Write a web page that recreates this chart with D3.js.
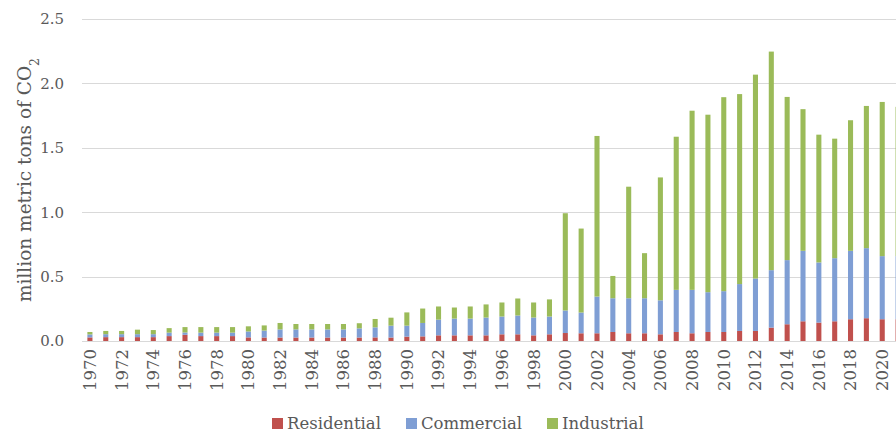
<!DOCTYPE html>
<html>
<head>
<meta charset="utf-8">
<script src="https://cdn.jsdelivr.net/npm/d3@7"></script>
<style>
  body { margin: 0; background: #fff; }
  svg text { font-family: "DejaVu Serif", "Liberation Serif", serif; fill: #595959; }
</style>
</head>
<body>
<script>
var years = d3.range(1970, 2022);

var residential = [0.028, 0.03, 0.03, 0.03, 0.03, 0.038, 0.048, 0.038, 0.038, 0.038,
  0.028, 0.027, 0.027, 0.027, 0.027, 0.027, 0.027, 0.027, 0.028, 0.027,
  0.034, 0.036, 0.044, 0.044, 0.044, 0.044, 0.052, 0.052, 0.044, 0.052,
  0.062, 0.06, 0.06, 0.07, 0.06, 0.06, 0.052, 0.07, 0.06, 0.07,
  0.07, 0.078, 0.078, 0.104, 0.13, 0.153, 0.143, 0.153, 0.169, 0.177,
  0.169, 0.169];

var commercial = [0.023, 0.023, 0.023, 0.023, 0.023, 0.027, 0.018, 0.027, 0.027, 0.027,
  0.046, 0.054, 0.063, 0.063, 0.063, 0.063, 0.063, 0.071, 0.078, 0.092,
  0.085, 0.104, 0.122, 0.13, 0.13, 0.138, 0.138, 0.146, 0.138, 0.138,
  0.175, 0.161, 0.285, 0.262, 0.272, 0.272, 0.264, 0.327, 0.337, 0.309,
  0.317, 0.364, 0.407, 0.446, 0.498, 0.547, 0.467, 0.49, 0.531, 0.544,
  0.49, 0.49];

var industrial = [0.019, 0.025, 0.025, 0.035, 0.032, 0.035, 0.042, 0.043, 0.043, 0.043,
  0.04, 0.04, 0.05, 0.042, 0.042, 0.042, 0.042, 0.04, 0.065, 0.062,
  0.103, 0.112, 0.102, 0.086, 0.094, 0.102, 0.109, 0.132, 0.117, 0.133,
  0.755, 0.652, 1.247, 0.173, 0.866, 0.35, 0.954, 1.189, 1.391, 1.378,
  1.506, 1.475, 1.583, 1.697, 1.267, 1.1, 0.992, 0.928, 1.014, 1.104,
  1.197, 1.159];

var seriesNames = ["Residential", "Commercial", "Industrial"];
var seriesColors = ["#c0504d", "#7f9ed4", "#9bbb59"];
var yTicks = [0, 0.5, 1.0, 1.5, 2.0, 2.5];

var width = 896, height = 432;
var plotLeft = 82, plotTop = 19, plotBottom = 341, plotRight = 906;

var table = years.map(function (yr, i) {
  return { year: yr, Residential: residential[i], Commercial: commercial[i], Industrial: industrial[i] };
});

var stack = d3.stack().keys(seriesNames)(table);

var x = d3.scaleBand()
  .domain(years)
  .range([plotLeft, plotRight])
  .paddingInner(0.68)
  .paddingOuter(0.34);

var y = d3.scaleLinear()
  .domain([0, 2.5])
  .range([plotBottom, plotTop]);

var color = d3.scaleOrdinal().domain(seriesNames).range(seriesColors);

var svg = d3.select("body")
  .append("svg")
  .attr("width", width)
  .attr("height", height);

// gridlines
svg.append("g")
  .selectAll("line")
  .data(yTicks)
  .enter()
  .append("line")
  .attr("x1", plotLeft)
  .attr("x2", width)
  .attr("y1", function (d) { return Math.round(y(d)) + 0.5; })
  .attr("y2", function (d) { return Math.round(y(d)) + 0.5; })
  .attr("stroke", "#d9d9d9")
  .attr("stroke-width", 1.2);

// y axis labels
svg.append("g")
  .selectAll("text")
  .data(yTicks)
  .enter()
  .append("text")
  .attr("x", 64)
  .attr("y", function (d) { return y(d); })
  .attr("dy", "0.36em")
  .attr("text-anchor", "end")
  .style("font-size", "15px")
  .text(function (d) { return d3.format(".1f")(d); });

// bars
svg.append("g")
  .selectAll("g")
  .data(stack)
  .enter()
  .append("g")
  .attr("fill", function (d) { return color(d.key); })
  .selectAll("rect")
  .data(function (d) { return d; })
  .enter()
  .append("rect")
  .attr("x", function (d) { return x(d.data.year); })
  .attr("width", x.bandwidth())
  .attr("y", function (d) { return y(d[1]); })
  .attr("height", function (d) { return y(d[0]) - y(d[1]); });

// x axis labels, every other year
svg.append("g")
  .selectAll("text")
  .data(years.filter(function (d) { return d % 2 === 0; }))
  .enter()
  .append("text")
  .attr("transform", function (d) {
    return "translate(" + (x(d) + x.bandwidth() / 2) + "," + 349 + ") rotate(-90)";
  })
  .attr("dy", "0.36em")
  .attr("text-anchor", "end")
  .style("font-size", "16.5px")
  .text(function (d) { return d; });

// y axis title
var title = svg.append("text")
  .attr("transform", "translate(31,180) rotate(-90)")
  .attr("text-anchor", "middle")
  .style("font-size", "18.5px");
title.append("tspan").text("million metric tons of CO");
title.append("tspan")
  .attr("baseline-shift", "sub")
  .style("font-size", "12.5px")
  .text("2");

// legend
var legendX = [272, 406, 547];
var legend = svg.append("g")
  .selectAll("g")
  .data(seriesNames)
  .enter()
  .append("g")
  .attr("transform", function (d, i) { return "translate(" + legendX[i] + ",418)"; });

legend.append("rect")
  .attr("width", 11)
  .attr("height", 11)
  .attr("fill", function (d) { return color(d); });

legend.append("text")
  .attr("x", 15)
  .attr("y", 5.5)
  .attr("dy", "0.36em")
  .style("font-size", "16.5px")
  .text(function (d) { return d; });
</script>
</body>
</html>
